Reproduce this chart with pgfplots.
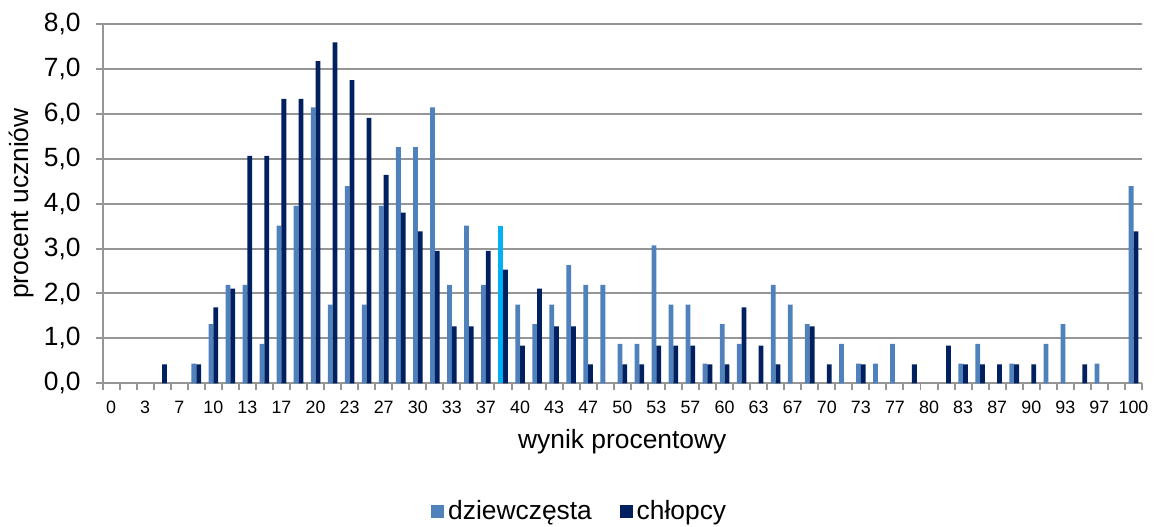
\documentclass[border=0pt]{standalone}
\usepackage{pgfplots}
\pgfplotsset{compat=1.18}
\usepackage{fontspec}
\setmainfont{Liberation Sans}

\definecolor{girls}{HTML}{4F81BD}
\definecolor{boys}{HTML}{002060}
\definecolor{hilite}{HTML}{00B0F0}
\definecolor{gridgray}{RGB}{150,150,150}

\begin{document}
\begin{tikzpicture}
\begin{axis}[
  name=main,
  scale only axis,
  width=522bp, height=180.5bp,
  xmin=-0.5, xmax=60.5,
  ymin=0, ymax=8,
  axis x line=bottom, axis y line=left,
  axis line style={-, gridgray, line width=1bp},
  ybar, bar width=2.4bp,
  ytick={0,1,...,8},
  ymajorgrids,
  grid style={gridgray, line width=1bp},
  tick align=outside,
  major tick length=3.5bp,
  minor tick length=3.5bp,
  tick style={gridgray, line width=1bp},
  xtick={0,2,...,60},
  xticklabels={0,3,7,10,13,17,20,23,27,30,33,37,40,43,47,50,53,57,60,63,67,70,73,77,80,83,87,90,93,97,100},
  major x tick style={draw=none},
  minor xtick={-0.5,0.5,...,60.5},
  xticklabel style={font=\fontsize{9}{10}\selectfont, yshift=-2bp},
  yticklabel style={font=\fontsize{13.3}{15}\selectfont, xshift=-4bp},
  /pgf/number format/assume math mode=true,
  yticklabel={\pgfmathprintnumber[fixed, fixed zerofill, precision=1, use comma]{\tick}},
  xlabel={wynik procentowy},
  ylabel={procent uczniów},
  xlabel style={font=\fontsize{13.3}{15}\selectfont, at={(rel axis cs:0.5,-0.161)}, anchor=center},
  ylabel style={font=\fontsize{13.3}{15}\selectfont, at={(rel axis cs:-0.0777,0.5)}, anchor=center},
  legend columns=2,
  legend style={draw=none, fill=none, inner sep=0pt, outer sep=0pt,
    at={(rel axis cs:0.46,-0.357)}, anchor=center,
    font=\fontsize{13.3}{15}\selectfont,
    /tikz/every even column/.append style={column sep=12bp}},
  legend image code/.code={\fill[#1] (0bp,-3.25bp) rectangle (6.5bp,3.25bp);},
]
% dziewczęta
\addplot[fill=girls, draw=none, bar shift=-1.2bp] coordinates {
  (5,0.44) (6,1.32) (7,2.19) (8,2.19) (9,0.88) (10,3.51) (11,3.95) (12,6.14)
  (13,1.75) (14,4.39) (15,1.75) (16,3.95) (17,5.26) (18,5.26) (19,6.14)
  (20,2.19) (21,3.51) (22,2.19) (24,1.75) (25,1.32) (26,1.75) (27,2.63)
  (28,2.19) (29,2.19) (30,0.88) (31,0.88) (32,3.07) (33,1.75) (34,1.75)
  (35,0.44) (36,1.32) (37,0.88) (39,2.19) (40,1.75) (41,1.32) (43,0.88)
  (44,0.44) (45,0.44) (46,0.88) (50,0.44) (51,0.88) (53,0.44) (55,0.88)
  (56,1.32) (58,0.44) (60,4.39)
};
% chłopcy
\addplot[fill=boys, draw=none, bar shift=1.2bp] coordinates {
  (3,0.42) (5,0.42) (6,1.69) (7,2.11) (8,5.06) (9,5.06) (10,6.33) (11,6.33)
  (12,7.17) (13,7.59) (14,6.75) (15,5.91) (16,4.64) (17,3.80) (18,3.38)
  (19,2.95) (20,1.27) (21,1.27) (22,2.95) (23,2.53) (24,0.84) (25,2.11)
  (26,1.27) (27,1.27) (28,0.42) (30,0.42) (31,0.42) (32,0.84) (33,0.84)
  (34,0.84) (35,0.42) (36,0.42) (37,1.69) (38,0.84) (39,0.42) (41,1.27)
  (42,0.42) (44,0.42) (47,0.42) (49,0.84) (50,0.42) (51,0.42) (52,0.42)
  (53,0.42) (54,0.42) (57,0.42) (60,3.38)
};
% wyróżniony słupek
\addplot[fill=hilite, draw=none, bar shift=-1.2bp, forget plot] coordinates {(23,3.51)};
\legend{dziewczęsta, chłopcy}
\end{axis}
\path[use as bounding box] (main.south west) ++(-51.5bp,-70bp) rectangle ++(577.5bp,262.5bp);
\end{tikzpicture}
\end{document}
